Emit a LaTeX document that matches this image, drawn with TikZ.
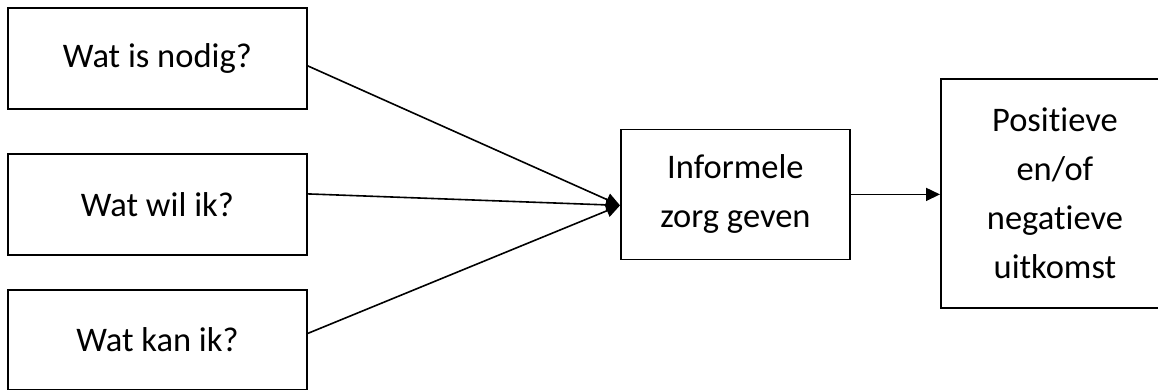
\documentclass[tikz,border=0pt]{standalone}
\usepackage{fontspec}
\setmainfont{Carlito}[Ligatures=NoCommon]
\usetikzlibrary{arrows.meta}
\begin{document}
\begin{tikzpicture}[x=1pt,y=1pt,
  boxnode/.style={draw, line width=1.8pt, inner sep=0pt, anchor=north west,
    align=center, font=\fontsize{34.5}{49}\selectfont},
  conn/.style={line width=1.6pt, -{Triangle[length=14pt,width=13pt]}}]
\useasboundingbox (0,0) rectangle (1158,-389);
\fill[white] (0,0) rectangle (1158,-389);
\node[boxnode, minimum width=299pt, minimum height=101pt] (n1) at (7,-7) {Wat is nodig?};
\node[boxnode, minimum width=299pt, minimum height=101pt] (n2) at (7,-153) {Wat wil ik?};
\node[boxnode, minimum width=299pt, minimum height=100pt] (n3) at (7,-289) {Wat kan ik?};
\node[boxnode, minimum width=229pt, minimum height=130pt] (mid) at (620,-128.5) {Informele\\zorg geven};
\node[boxnode, minimum width=228pt, minimum height=229pt] (out) at (940,-78) {Positieve\\en/of\\negatieve\\uitkomst};
\coordinate (tip) at ([yshift=-11pt]mid.west);
\draw[conn] ([yshift=-7.5pt]n1.east) -- (tip);
\draw[conn] ([yshift=10.5pt]n2.east) -- (tip);
\draw[conn] ([yshift=6.5pt]n3.east) -- (tip);
\draw[conn] (mid.east) -- (mid.east -| out.west);
\end{tikzpicture}
\end{document}
